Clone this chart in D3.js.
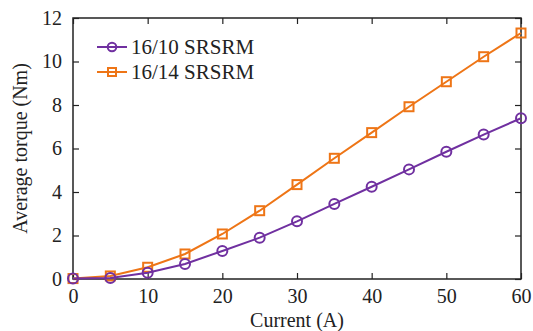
<!DOCTYPE html>
<html>
<head>
<meta charset="utf-8">
<script src="https://cdn.jsdelivr.net/npm/d3@7"></script>
<style>
  body { margin: 0; background: #fff; }
  svg text { font-family: "Liberation Serif", "DejaVu Serif", "Times New Roman", serif !important; }
</style>
</head>
<body>
<div class="chart"></div>
<script>
var width = 533,
    height = 331;

var current = [0, 5, 10, 15, 20, 25, 30, 35, 40, 45, 50, 55, 60];
var torque1610 = [0.02, 0.05, 0.29, 0.69, 1.29, 1.9, 2.65, 3.45, 4.24, 5.04, 5.85, 6.64, 7.39];
var torque1614 = [0.02, 0.14, 0.54, 1.15, 2.07, 3.14, 4.34, 5.55, 6.73, 7.92, 9.07, 10.22, 11.31];
var xTicks = [0, 10, 20, 30, 40, 50, 60];
var yTicks = [0, 2, 4, 6, 8, 10, 12];

var margin = {top: 18, right: 12, bottom: 52, left: 73};

var svg = d3.select(".chart").append("svg")
    .attr("width", width)
    .attr("height", height);

var x = d3.scaleLinear().domain([0, 60]).range([margin.left, width - margin.right]);
var y = d3.scaleLinear().domain([0, 12]).range([height - margin.bottom, margin.top]);

// frame
svg.append("rect")
    .attr("x", x(0)).attr("y", y(12))
    .attr("width", x(60) - x(0)).attr("height", y(0) - y(12))
    .attr("fill", "none").attr("stroke", "#222").attr("stroke-width", 1.5);

function styleAxis(g, noText) {
  g.attr("font-family", "Liberation Serif").attr("font-size", 20);
  g.select(".domain").remove();
  g.selectAll(".tick line").attr("stroke", "#222").attr("stroke-width", 1.2);
  g.selectAll(".tick text").attr("fill", "#222");
  if (noText) g.selectAll(".tick text").remove();
}

svg.append("g")
    .attr("transform", "translate(0," + y(0) + ")")
    .call(d3.axisBottom(x).tickValues(xTicks).tickSizeInner(-6).tickPadding(10))
    .call(styleAxis);

svg.append("g")
    .attr("transform", "translate(0," + y(12) + ")")
    .call(d3.axisTop(x).tickValues(xTicks).tickSizeInner(-6))
    .call(g => styleAxis(g, true));

svg.append("g")
    .attr("transform", "translate(" + x(0) + ",0)")
    .call(d3.axisLeft(y).tickValues(yTicks).tickSizeInner(-6).tickPadding(11))
    .call(styleAxis);

svg.append("g")
    .attr("transform", "translate(" + x(60) + ",0)")
    .call(d3.axisRight(y).tickValues(yTicks).tickSizeInner(-6))
    .call(g => styleAxis(g, true));

// titles
svg.append("text")
    .attr("x", (x(0) + x(60)) / 2).attr("y", 327)
    .attr("text-anchor", "middle")
    .attr("fill", "#222")
    .attr("font-family", "Liberation Serif")
    .attr("font-size", 20)
    .text("Current (A)");

svg.append("text")
    .attr("transform", "translate(27," + (y(6)) + ") rotate(-90)")
    .attr("text-anchor", "middle")
    .attr("fill", "#222")
    .attr("font-family", "Liberation Serif")
    .attr("font-size", 20)
    .text("Average torque (Nm)");

var series = [
  {name: "16/10 SRSRM", values: torque1610, color: "#7030a0", marker: "circle"},
  {name: "16/14 SRSRM", values: torque1614, color: "#ee7516", marker: "square"}
];

var line = d3.line()
    .x(function(d, i) { return x(current[i]); })
    .y(function(d) { return y(d); });

function drawMarker(g, type, color, cx, cy) {
  if (type === "circle") {
    g.append("circle").attr("cx", cx).attr("cy", cy).attr("r", 5)
      .attr("fill", "none").attr("stroke", color).attr("stroke-width", 2);
  } else {
    g.append("rect").attr("x", cx - 4.5).attr("y", cy - 4.5).attr("width", 9).attr("height", 9)
      .attr("fill", "none").attr("stroke", color).attr("stroke-width", 2);
  }
}

// orange first so purple sits on top at low currents
series.slice().reverse().forEach(function(s) {
  var g = svg.append("g");
  g.append("path")
      .datum(s.values)
      .attr("d", line)
      .attr("fill", "none")
      .attr("stroke", s.color)
      .attr("stroke-width", 2);
  s.values.forEach(function(v, i) {
    drawMarker(g, s.marker, s.color, x(current[i]), y(v));
  });
});

// legend
series.forEach(function(s, i) {
  var ly = 47 + i * 25;
  var g = svg.append("g");
  g.append("line")
      .attr("x1", 97).attr("x2", 127).attr("y1", ly).attr("y2", ly)
      .attr("stroke", s.color).attr("stroke-width", 2);
  if (s.marker === "circle") {
    g.append("circle").attr("cx", 112).attr("cy", ly).attr("r", 4.3)
      .attr("fill", "none").attr("stroke", s.color).attr("stroke-width", 2);
  } else {
    g.append("rect").attr("x", 108).attr("y", ly - 4).attr("width", 8).attr("height", 8)
      .attr("fill", "none").attr("stroke", s.color).attr("stroke-width", 2);
  }
  g.append("text")
      .attr("x", 131).attr("y", ly + 7)
      .attr("fill", "#222")
      .attr("font-family", "Liberation Serif")
      .attr("font-size", 21)
      .text(s.name);
});
</script>
</body>
</html>
